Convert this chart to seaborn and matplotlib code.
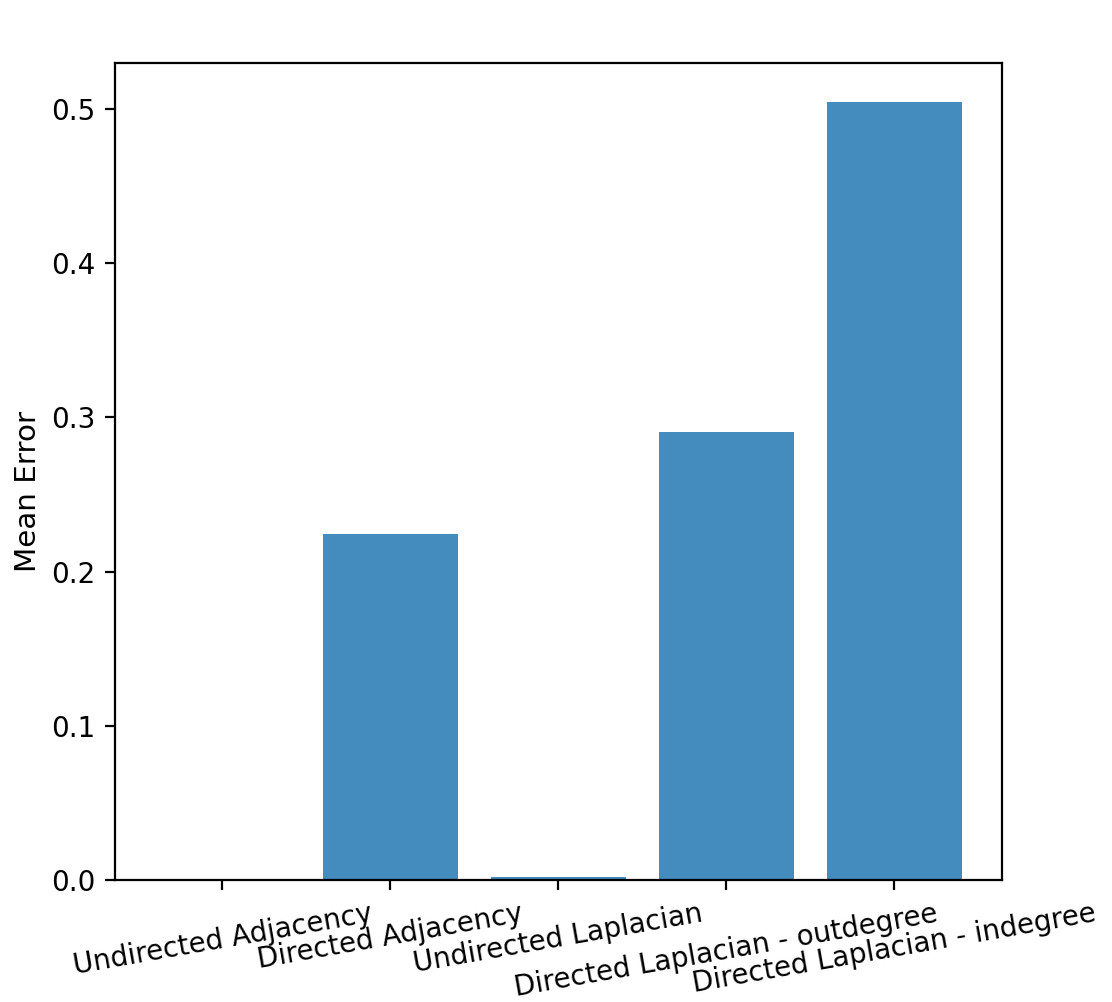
import matplotlib
matplotlib.use("Agg")
import matplotlib.pyplot as plt
import seaborn as sns
import pandas as pd

categories = ["Undirected Adjacency", "Directed Adjacency", "Undirected Laplacian",
              "Directed Laplacian - outdegree", "Directed Laplacian - indegree"]
mean_error = [0.0001, 0.2245, 0.0022, 0.2905, 0.5045]

df = pd.DataFrame({"method": categories, "err": mean_error})

plt.rcParams["font.family"] = ["DejaVu Sans"]
plt.rcParams["font.size"] = 10

fig = plt.figure(figsize=(5.56, 5.01), dpi=200)
ax = fig.add_axes([0.1034, 0.1218, 0.7976, 0.8153])
sns.barplot(data=df, x="method", y="err", color="#448bbe", saturation=1,
            width=0.8, ax=ax, errorbar=None)
ax.set_xlim(-0.64, 4.64)
ax.set_ylim(0, max(mean_error) * 1.05)
ax.set_xlabel("")
ax.set_ylabel("Mean Error", fontsize=10.6)
ax.yaxis.set_label_coords(-0.082, 0.475)
ax.set_yticks([0.0, 0.1, 0.2, 0.3, 0.4, 0.5])
ax.set_xticks(range(len(categories)))
ax.set_xticklabels(categories, rotation=10, ha="center")
fig.savefig("out.png", dpi=200)
